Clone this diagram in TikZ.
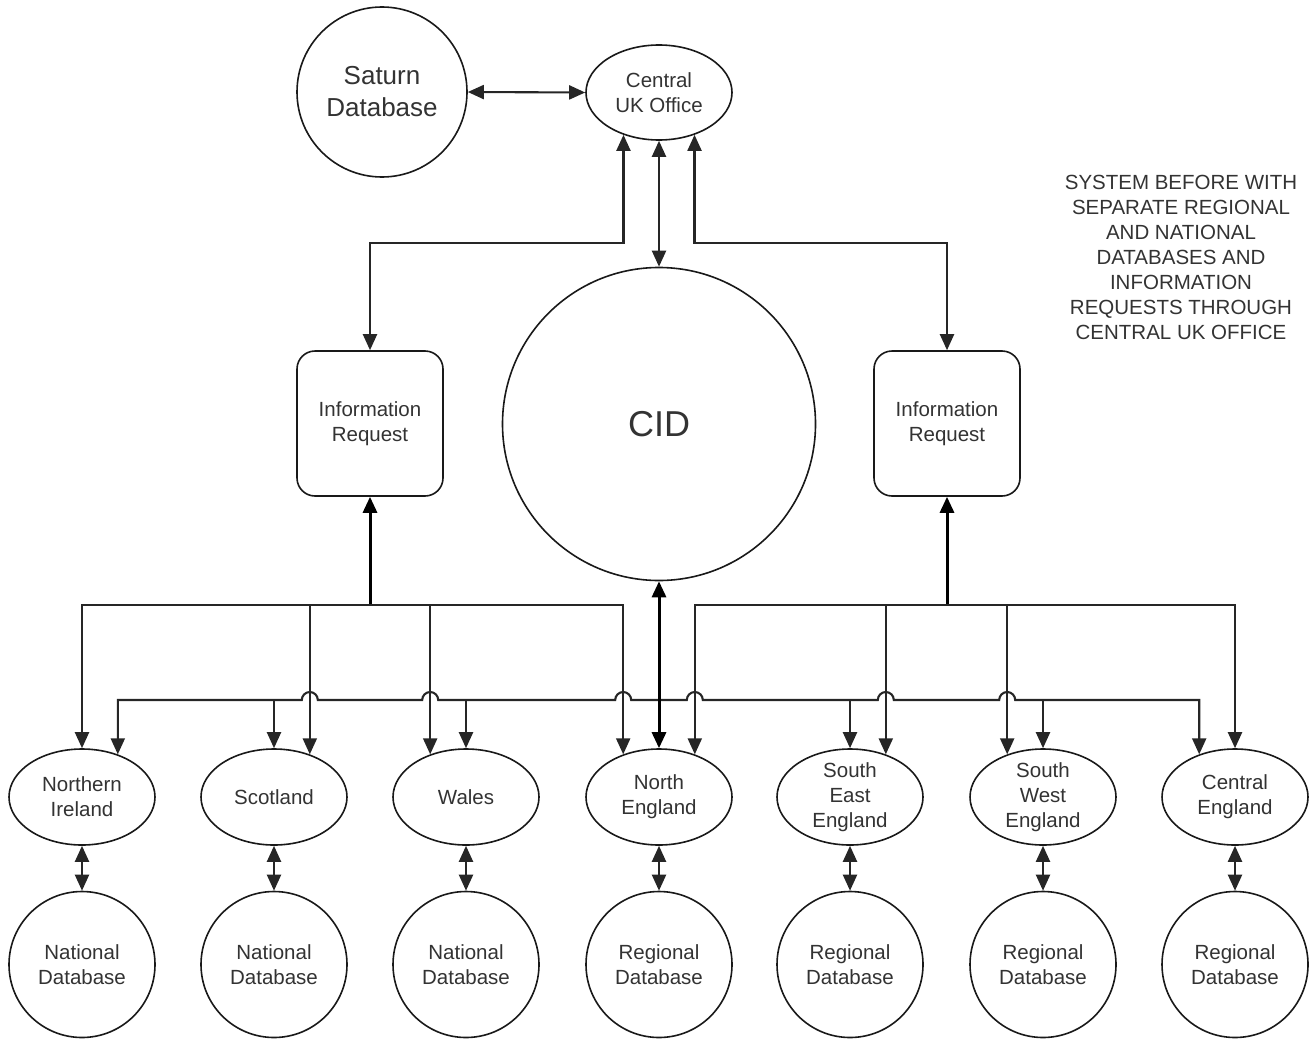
\documentclass[tikz,border=0pt]{standalone}
\usepackage{fontspec}
\setmainfont{Liberation Sans}
\usetikzlibrary{arrows.meta,shapes.geometric,calc}

\newcommand\diagfont{\fontsize{20.5}{25}\selectfont}

\begin{document}
\begin{tikzpicture}[x=1pt,y=1pt,
  >={Triangle[length=16pt,width=14pt]},
  txt/.style={text=black!80,font=\diagfont,align=center},
  outline/.style={draw=black!90,line width=1.6pt,fill=white},
  region/.style={outline,ellipse,minimum width=146pt,minimum height=96pt,
    inner sep=0pt,label={[txt]center:#1}},
  store/.style={outline,circle,minimum size=146pt,inner sep=0pt,txt},
  reqbox/.style={outline,rectangle,rounded corners=18pt,minimum width=146pt,
    minimum height=145pt,inner sep=0pt,txt},
  wire/.style={draw=black!85,line width=2.1pt},
  trunk/.style={draw=black,line width=3pt},
]
% page frame
\useasboundingbox (0,0) rectangle (1313,-1038);

% --- upper level ---
\node[outline,circle,minimum size=170pt,inner sep=0pt,txt,
      font=\fontsize{26}{32}\selectfont] (sat) at (382,-92) {Saturn\\Database};
\node[outline,ellipse,minimum width=146pt,minimum height=95pt,inner sep=0pt,txt]
      (cuk) at (659,-92.5) {Central\\UK Office};
\node[outline,circle,minimum size=313pt,inner sep=0pt,text=black!80,
      font=\fontsize{36}{40}\selectfont] (cid) at (659,-424) {CID};
\node[reqbox] (irL) at (370,-423.5) {Information\\Request};
\node[reqbox] (irR) at (947,-423.5) {Information\\Request};

\node[txt] (cap) at (1181,-257.5) {SYSTEM BEFORE WITH\\SEPARATE REGIONAL\\AND NATIONAL\\DATABASES AND\\INFORMATION\\REQUESTS THROUGH\\CENTRAL UK OFFICE};

% --- regional offices ---
\node[region={Northern\\Ireland}] (ni) at (82,-797) {};
\node[region={Scotland}] (sc) at (274,-797) {};
\node[region={Wales}] (wa) at (466,-797) {};
\node[region={North\\England}] (ne) at (659,-797) {};
\node[region={South\\East\\England}] (se) at (850,-797) {};
\node[region={South\\West\\England}] (sw) at (1043,-797) {};
\node[region={Central\\England}] (ce) at (1235,-797) {};

% --- databases ---
\node[store] (db1) at (82,-964.5) {National\\Database};
\node[store] (db2) at (274,-964.5) {National\\Database};
\node[store] (db3) at (466,-964.5) {National\\Database};
\node[store] (db4) at (659,-964.5) {Regional\\Database};
\node[store] (db5) at (850,-964.5) {Regional\\Database};
\node[store] (db6) at (1043,-964.5) {Regional\\Database};
\node[store] (db7) at (1235,-964.5) {Regional\\Database};

% --- links around the central office ---
\draw[wire,<->] (sat.east) -- (cuk.west);
\draw[wire,<->] (cuk.south) -- (cid.north);
\coordinate (kL) at (cuk.230 |- 0,-243);
\coordinate (kR) at (cuk.310 |- 0,-243);
\draw[wire,<->] (irL.north) |- (kL) -- (cuk.230);
\draw[wire,<->] (irR.north) |- (kR) -- (cuk.310);

% --- request trees ---
\coordinate (tL) at (irL.south |- 0,-605);
\coordinate (tR) at (irR.south |- 0,-605);
\draw[trunk,<-] (irL.south) -- (tL);
\draw[trunk,<-] (irR.south) -- (tR);
\draw[wire,->] (tL) -| (ni.north);
\draw[wire,->] (tL) -| (sc.50);
\draw[wire,->] (tL) -| (wa.130);
\draw[wire,->] (tL) -| (ne.130);
\draw[wire,->] (tR) -| (ne.50);
\draw[wire,->] (tR) -| (se.50);
\draw[wire,->] (tR) -| (sw.130);
\draw[wire,->] (tR) -| (ce.north);

% --- CID distribution bus with line hops ---
\coordinate (hub) at (cid.south |- 0,-700);
\draw[wire,->] (hub)
  -- ($(ne.130 |- hub)+(8,0)$) arc[start angle=0,end angle=180,radius=8]
  -- ($(wa.130 |- hub)+(8,0)$) arc[start angle=0,end angle=180,radius=8]
  -- ($(sc.50 |- hub)+(8,0)$) arc[start angle=0,end angle=180,radius=8]
  -| (ni.50);
\draw[wire,->] (hub)
  -- ($(ne.50 |- hub)+(-8,0)$) arc[start angle=180,end angle=0,radius=8]
  -- ($(se.50 |- hub)+(-8,0)$) arc[start angle=180,end angle=0,radius=8]
  -- ($(sw.130 |- hub)+(-8,0)$) arc[start angle=180,end angle=0,radius=8]
  -| (ce.130);
\draw[wire,->] (sc.north |- hub) -- (sc.north);
\draw[wire,->] (wa.north |- hub) -- (wa.north);
\draw[wire,->] (se.north |- hub) -- (se.north);
\draw[wire,->] (sw.north |- hub) -- (sw.north);
\draw[trunk,<->] (cid.south) -- (ne.north);

% --- office to database links ---
\draw[wire,<->] (ni.south) -- (db1.north);
\draw[wire,<->] (sc.south) -- (db2.north);
\draw[wire,<->] (wa.south) -- (db3.north);
\draw[wire,<->] (ne.south) -- (db4.north);
\draw[wire,<->] (se.south) -- (db5.north);
\draw[wire,<->] (sw.south) -- (db6.north);
\draw[wire,<->] (ce.south) -- (db7.north);
\end{tikzpicture}
\end{document}
